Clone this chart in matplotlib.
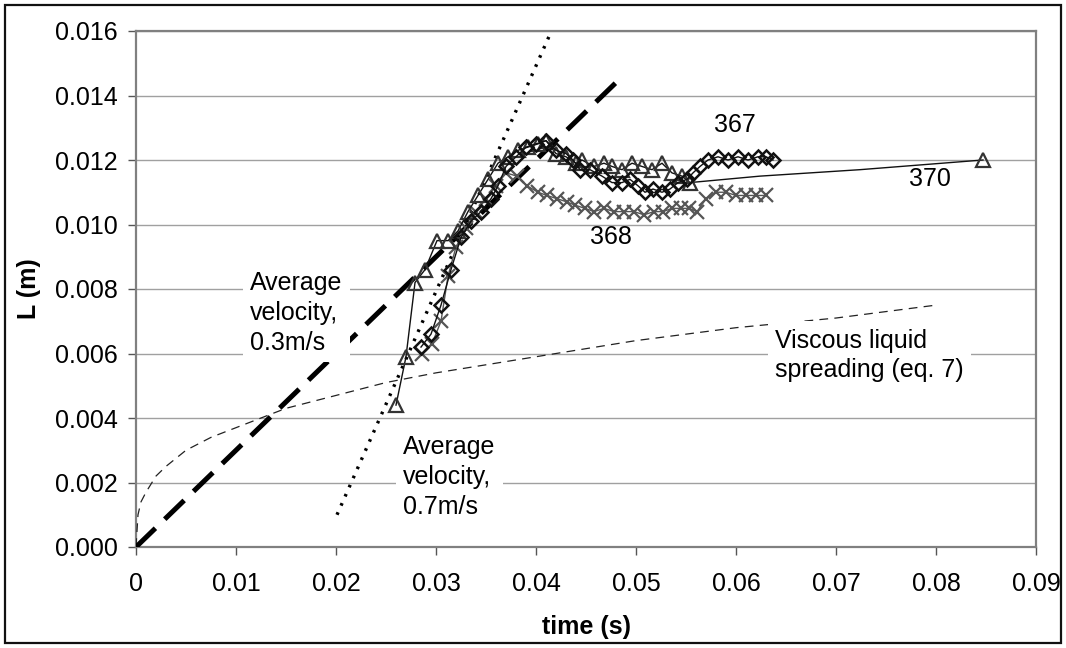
import matplotlib
matplotlib.use('Agg')
import matplotlib.pyplot as plt
from matplotlib.patches import Rectangle

plt.rcParams['font.family'] = ['Liberation Sans', 'DejaVu Sans']

# ---- data ----
# run 367 (open diamonds)
t_367 = [0.0285, 0.0295, 0.0305, 0.0315, 0.0325, 0.0335, 0.0345, 0.0355, 0.0362,
         0.0370, 0.0380, 0.0390, 0.0400, 0.0410, 0.0420, 0.0430, 0.0437, 0.0444,
         0.0454, 0.0466, 0.0476, 0.0486, 0.0494, 0.0502, 0.0509, 0.0517, 0.0526,
         0.0534, 0.0542, 0.0551, 0.0557, 0.0564, 0.0572, 0.0582, 0.0592, 0.0602,
         0.0612, 0.0622, 0.0630, 0.0637]
L_367 = [0.0062, 0.0066, 0.0075, 0.0086, 0.0096, 0.0101, 0.0104, 0.0108, 0.0112,
         0.0118, 0.0121, 0.0124, 0.0125, 0.0126, 0.0123, 0.0122, 0.0120, 0.0117,
         0.0117, 0.0115, 0.0113, 0.0113, 0.0114, 0.0112, 0.0110, 0.0111, 0.0110,
         0.0111, 0.0113, 0.0114, 0.0116, 0.0118, 0.0120, 0.0121, 0.0120, 0.0121,
         0.0120, 0.0121, 0.0121, 0.0120]

# run 368 (crosses)
t_368 = [0.0286, 0.0296, 0.0305, 0.0312, 0.0320, 0.0330, 0.0340, 0.0350, 0.0360,
         0.0370, 0.0381, 0.0391, 0.0402, 0.0411, 0.0421, 0.0431, 0.0439, 0.0449,
         0.0458, 0.0468, 0.0478, 0.0488, 0.0498, 0.0508, 0.0518, 0.0527, 0.0536,
         0.0545, 0.0553, 0.0561, 0.0570, 0.0580, 0.0590, 0.0600, 0.0610, 0.0620,
         0.0630]
L_368 = [0.0060, 0.0063, 0.0070, 0.0084, 0.0093, 0.0099, 0.0104, 0.0108, 0.0112,
         0.0116, 0.0115, 0.0112, 0.0110, 0.0109, 0.0108, 0.0107, 0.0106, 0.0105,
         0.0104, 0.0105, 0.0104, 0.0104, 0.0104, 0.0103, 0.0104, 0.0104, 0.0105,
         0.0105, 0.0105, 0.0104, 0.0108, 0.0110, 0.0110, 0.0109, 0.0109, 0.0109,
         0.0109]

# run 370 (open triangles, thin line)
t_370 = [0.0260, 0.0270, 0.0279, 0.0289, 0.0301, 0.0312, 0.0322, 0.0332, 0.0342,
         0.0352, 0.0362, 0.0372, 0.0382, 0.0392, 0.0402, 0.0410, 0.0420, 0.0430,
         0.0440, 0.0446, 0.0458, 0.0468, 0.0476, 0.0486, 0.0496, 0.0506, 0.0516,
         0.0526, 0.0536, 0.0546, 0.0554, 0.0624, 0.0724, 0.0847]
L_370 = [0.0044, 0.0059, 0.0082, 0.0086, 0.0095, 0.0095, 0.0098, 0.0104, 0.0109,
         0.0114, 0.0119, 0.0121, 0.0123, 0.0124, 0.0125, 0.0126, 0.0122, 0.0121,
         0.0119, 0.0120, 0.0118, 0.0119, 0.0118, 0.0117, 0.0119, 0.0118, 0.0117,
         0.0119, 0.0116, 0.0115, 0.0113, 0.0115, 0.0117, 0.0120]
marked_370 = list(range(0, 31)) + [33]

# average velocity 0.3 m/s line
t_v03 = [0.0, 0.048]
L_v03 = [0.0, 0.0144]

# average velocity 0.7 m/s line
t_v07 = [0.0201, 0.0414]
L_v07 = [0.0010, 0.0159]

# viscous liquid spreading (eq. 7)
t_visc = [0.0, 0.0002, 0.0005, 0.001, 0.002, 0.003, 0.005, 0.0075, 0.010, 0.015,
          0.020, 0.025, 0.030, 0.040, 0.050, 0.060, 0.070, 0.080]
L_visc = [0.0, 0.0010, 0.0014, 0.0017, 0.0022, 0.0025, 0.0030, 0.0034, 0.0037,
          0.0043, 0.0047, 0.0051, 0.0054, 0.0059, 0.0064, 0.0068, 0.0071, 0.0075]

x_ticks = [0, 0.01, 0.02, 0.03, 0.04, 0.05, 0.06, 0.07, 0.08, 0.09]
x_labels = ['0', '0.01', '0.02', '0.03', '0.04', '0.05', '0.06', '0.07', '0.08', '0.09']
y_ticks = [0.000, 0.002, 0.004, 0.006, 0.008, 0.010, 0.012, 0.014, 0.016]
y_labels = ['0.000', '0.002', '0.004', '0.006', '0.008', '0.010', '0.012', '0.014', '0.016']

# ---- figure ----
FS = 18
W, H = 1066, 648
fig = plt.figure(figsize=(W / 100, H / 100), dpi=100)
fig.patch.set_facecolor('white')
fig.add_artist(Rectangle((5 / W, 5 / H), 1056 / W, 638 / H, transform=fig.transFigure,
                         fill=False, edgecolor='#111111', linewidth=1.6))

ax = fig.add_axes([136 / W, 101 / H, 900 / W, 516 / H])
ax.set_xlim(0, 0.09)
ax.set_ylim(0, 0.016)
ax.set_xticks(x_ticks)
ax.set_xticklabels(x_labels)
ax.set_yticks(y_ticks)
ax.set_yticklabels(y_labels)
ax.tick_params(axis='both', labelsize=FS, length=6, width=1, color='#555555',
               direction='out')
ax.tick_params(axis='x', pad=12)
ax.tick_params(axis='y', pad=7)
for s in ax.spines.values():
    s.set_color('#808080')
    s.set_linewidth(1.6)
ax.yaxis.grid(True, color='#a0a0a0', linewidth=1.0)
ax.set_axisbelow(True)

ax.set_xlabel('time (s)', fontsize=FS, fontweight='bold', labelpad=14)
ax.set_ylabel('L (m)', fontsize=FS, fontweight='bold', labelpad=10)

# fit lines
ax.plot(t_visc, L_visc, color='#222222', linewidth=0.9, dashes=(7, 5), zorder=3)
ax.plot(t_v03, L_v03, color='black', linewidth=3.6, dashes=(5.4, 2.6),
        solid_capstyle='butt', zorder=4)
ax.plot(t_v07, L_v07, color='black', linewidth=2.4, dashes=(0.8, 2.2),
        dash_capstyle='butt', zorder=4)

# data series
ax.plot(t_368, L_368, color='#555555', linewidth=1.0, marker='x', markersize=10,
        markeredgewidth=1.6, markeredgecolor='#555555', zorder=5)
ax.plot(t_370, L_370, color='#111111', linewidth=1.0, marker='^', markersize=10,
        markerfacecolor='none', markeredgewidth=1.6, markeredgecolor='#333333',
        markevery=marked_370, zorder=6)
ax.plot(t_367, L_367, color='#111111', linewidth=1.0, marker='D', markersize=7.5,
        markerfacecolor='none', markeredgewidth=1.8, markeredgecolor='#111111',
        zorder=7)

box = dict(facecolor='white', edgecolor='none', boxstyle='square,pad=0.3')
ax.text(0.0114, 0.00725, 'Average\nvelocity,\n0.3m/s', fontsize=FS,
        ha='left', va='center', linespacing=1.3, bbox=box, zorder=8)
ax.text(0.0267, 0.00217, 'Average\nvelocity,\n0.7m/s', fontsize=FS,
        ha='left', va='center', linespacing=1.3, bbox=box, zorder=8)
ax.text(0.0639, 0.00594, 'Viscous liquid\nspreading (eq. 7)', fontsize=FS,
        ha='left', va='center', linespacing=1.3, bbox=box, zorder=8)
ax.text(0.0599, 0.0131, '367', fontsize=FS, ha='center', va='center', zorder=8)
ax.text(0.0475, 0.0096, '368', fontsize=FS, ha='center', va='center', zorder=8)
ax.text(0.0794, 0.0114, '370', fontsize=FS, ha='center', va='center', zorder=8)

fig.savefig('out.png', dpi=100, facecolor='white')
